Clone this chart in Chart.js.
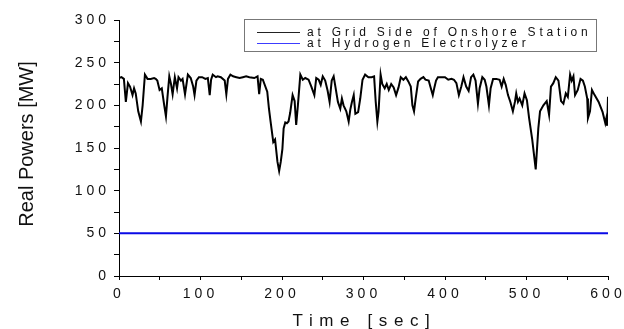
<!DOCTYPE html>
<html>
<head>
<meta charset="utf-8">
<script src="https://cdn.jsdelivr.net/npm/chart.js@4.4.1/dist/chart.umd.min.js"></script>
<style>
  html, body { margin: 0; padding: 0; background: #fff; }
  #wrap { width: 624px; height: 329px; }
</style>
</head>
<body>
<div id="wrap"><canvas id="powerChart" width="624" height="329"></canvas></div>
<script>
// Sample times [sec] and real power [MW] at the grid side of the onshore station
const gridTime = [
  0, 3, 6, 8.4, 11, 13.5, 16.6, 18.5, 20.5, 23.6, 26.9, 29, 31.8, 35, 39, 43, 45, 47, 49.8, 52.5,
  55.5, 57.6, 59.5, 61.7, 63.8, 65.8, 68.5, 71.2, 73, 76, 78, 81, 84.5, 88, 91, 92.7, 95, 98,
  102, 106, 109, 111.3, 113, 115, 119, 121, 125, 129.7, 131.7, 133.7, 136.7, 140, 144, 148, 152,
  156, 160, 166, 170, 172, 174, 176.5, 181.9, 184, 186, 189.3, 191.5, 194.4, 196.5, 198.5, 200.5,
  202, 204, 206, 208, 210, 213, 215.5, 217.4, 219.5, 222.5, 225.5, 228.5, 232.6, 236, 239.7, 242,
  245, 247.5, 250, 253, 256, 258.4, 261, 263.4, 265.5, 268.6, 271.5, 273.5, 275.5, 278.9, 281.8,
  283.8, 285.8, 288, 290, 293.4, 296, 298.8, 302, 306, 310, 313, 315, 317, 318.5, 321, 323, 326,
  328.5, 331, 334, 337, 340, 343, 345.7, 349, 352, 355, 358, 360, 362, 364, 367, 370, 373.5, 376,
  380, 382, 385, 387, 389, 391.3, 396, 400, 404, 408, 411, 414, 417, 420, 422.7, 426, 429, 432,
  434.8, 437.5, 440.4, 442.5, 445.8, 448.7, 450.8, 453.9, 456, 459, 463, 467, 469.5, 472, 474.5,
  477.3, 480.2, 483.3, 485.8, 487.4, 489.5, 491.5, 494.8, 497.6, 500.5, 503.2, 507, 511.3, 514.5,
  516.6, 520.7, 524.8, 527.7, 530, 532.9, 535.9, 539.2, 542.4, 545.3, 548.2, 550.7, 553.5, 555.5,
  557.6, 559.6, 562.9, 566.3, 569.2, 571.6, 574.5, 575.4, 577.9, 580.3, 583.6, 588.5, 593.4,
  596.7, 598, 599, 600
];
const gridPower = [
  232, 233, 231, 204, 226, 222, 212, 220, 214, 193, 181, 200, 236, 231, 231, 232, 231, 229, 218, 220,
  200, 187, 210, 234, 225, 213, 233, 220, 233, 229, 231, 213, 236, 232, 222, 212, 229, 233,
  233, 231, 232, 212, 230, 236, 233, 234, 233, 229, 213, 231, 236, 234, 233, 232, 233,
  234, 233, 232, 234, 213, 231, 230, 216, 196, 181, 157, 160, 134, 123, 134, 149,
  173, 180, 179, 181, 191, 212, 205, 177, 200, 236, 230, 232, 230, 222, 212, 232,
  230, 224, 234, 229, 217, 204, 229, 234, 222, 204, 196, 208, 200, 193, 181,
  195, 204, 212, 190, 192, 208, 230, 236, 233, 233, 234, 204, 181, 193, 236, 225, 220,
  225, 218, 225, 221, 212, 221, 233, 230, 233, 228, 222, 200, 193, 208, 228, 231, 233, 230,
  229, 222, 212, 221, 229, 233, 233, 233, 230, 231, 230, 226, 212, 222, 233, 222, 217, 233,
  236, 229, 202, 220, 233, 230, 222, 200, 220, 231, 231, 230, 222, 231, 224,
  212, 204, 193, 204, 214, 204, 208, 200, 214, 206, 185, 160, 125, 173,
  193, 200, 205, 189, 222, 226, 233, 229, 205, 202, 214, 210, 236, 229,
  234, 212, 218, 231, 229, 222, 208, 185, 193, 218, 212, 204, 192,
  179, 185, 176, 210
];

// Electrolyzer consumption stays flat over the run
const h2Time = [0, 600];
const h2Power = [50, 50];

const seriesLabels = ['at Grid Side of Onshore Station', 'at Hydrogen Electrolyzer'];
const seriesColors = ['#000', '#0a0ae6'];
const xTitle = 'Time [sec]';
const yTitle = 'Real Powers [MW]';

const toPoints = (xs, ys) => xs.map((x, i) => ({ x: x, y: ys[i] }));

// Spaced-out lettering for the tick labels
const letterSpacingPlugin = {
  id: 'letterSpacing',
  beforeLayout(chart) { chart.ctx.letterSpacing = '4px'; },
  beforeDraw(chart) { chart.ctx.letterSpacing = '4px'; }
};

// Axis titles drawn by hand so each gets its own spacing
const axisTitlePlugin = {
  id: 'axisTitles',
  afterDraw(chart) {
    const ctx = chart.ctx;
    const area = chart.chartArea;
    ctx.save();
    ctx.fillStyle = '#111';
    ctx.textBaseline = 'middle';
    ctx.textAlign = 'center';
    ctx.font = '17px "Liberation Sans", Arial, sans-serif';
    ctx.letterSpacing = '6.6px';
    ctx.fillText(xTitle, (area.left + area.right) / 2 + 1, 321);
    ctx.restore();

    ctx.save();
    ctx.fillStyle = '#111';
    ctx.textBaseline = 'middle';
    ctx.textAlign = 'center';
    ctx.font = '20px "Liberation Sans", Arial, sans-serif';
    ctx.letterSpacing = '0px';
    ctx.translate(27, 144);
    ctx.rotate(-Math.PI / 2);
    ctx.fillText(yTitle, 0, 0);
    ctx.restore();
  }
};

// Boxed legend in the upper right of the plot
const boxLegendPlugin = {
  id: 'boxLegend',
  afterDraw(chart) {
    const ctx = chart.ctx;
    const area = chart.chartArea;
    const right = area.right - 11;
    const left = right - 353;
    const top = area.top - 1;
    const rowY = [top + 13, top + 24];
    const sampleColors = ['#222', '#3c3cff'];
    ctx.save();
    ctx.fillStyle = '#fff';
    ctx.fillRect(left, top, right - left, 32);
    ctx.strokeStyle = '#777';
    ctx.lineWidth = 1;
    ctx.strokeRect(left + 0.5, top + 0.5, right - left - 1, 32);
    ctx.font = '12px "Liberation Sans", Arial, sans-serif';
    ctx.letterSpacing = '3.8px';
    ctx.textAlign = 'left';
    ctx.textBaseline = 'middle';
    chart.data.datasets.forEach((ds, i) => {
      ctx.strokeStyle = sampleColors[i];
      ctx.beginPath();
      ctx.moveTo(left + 13, Math.round(rowY[i]) + 0.5);
      ctx.lineTo(left + 56, Math.round(rowY[i]) + 0.5);
      ctx.stroke();
      ctx.fillStyle = '#111';
      ctx.fillText(ds.label, left + 63, rowY[i] + 1);
    });
    ctx.restore();
  }
};

const tickFont = { family: '"Liberation Sans", Arial, sans-serif', size: 14 };

new Chart(document.getElementById('powerChart'), {
  type: 'line',
  data: {
    datasets: [
      {
        label: seriesLabels[0],
        data: toPoints(gridTime, gridPower),
        borderColor: seriesColors[0],
        borderWidth: 2,
        pointRadius: 0,
        tension: 0
      },
      {
        label: seriesLabels[1],
        data: toPoints(h2Time, h2Power),
        borderColor: seriesColors[1],
        borderWidth: 2,
        pointRadius: 0,
        tension: 0
      }
    ]
  },
  options: {
    responsive: false,
    devicePixelRatio: 1,
    animation: false,
    layout: { padding: { top: 20, right: 16, bottom: 0, left: 0 } },
    plugins: {
      legend: { display: false },
      tooltip: { enabled: false }
    },
    scales: {
      x: {
        type: 'linear',
        min: 0,
        max: 600,
        afterFit(scale) {
          scale.height = 53;
          // keep the end labels from squeezing the plot
          scale.paddingLeft = 0;
          scale.paddingRight = 0;
        },
        border: { display: true, color: '#000', width: 1 },
        grid: { drawOnChartArea: false, drawTicks: true, tickLength: 4, color: '#000' },
        ticks: {
          stepSize: 50,
          autoSkip: false,
          maxRotation: 0,
          padding: 6,
          color: '#111',
          font: tickFont,
          callback: v => (v % 100 === 0 ? String(v) : '')
        }
      },
      y: {
        min: 0,
        max: 300,
        afterFit(scale) {
          scale.width = 119;
          scale.paddingTop = 0;
          scale.paddingBottom = 0;
        },
        border: { display: true, color: '#000', width: 1 },
        grid: { drawOnChartArea: false, drawTicks: true, tickLength: 5, color: '#000' },
        ticks: {
          stepSize: 25,
          autoSkip: false,
          padding: 4,
          color: '#111',
          font: tickFont,
          callback: v => (v % 50 === 0 ? String(v) : '')
        }
      }
    }
  },
  plugins: [letterSpacingPlugin, axisTitlePlugin, boxLegendPlugin]
});
</script>
</body>
</html>
